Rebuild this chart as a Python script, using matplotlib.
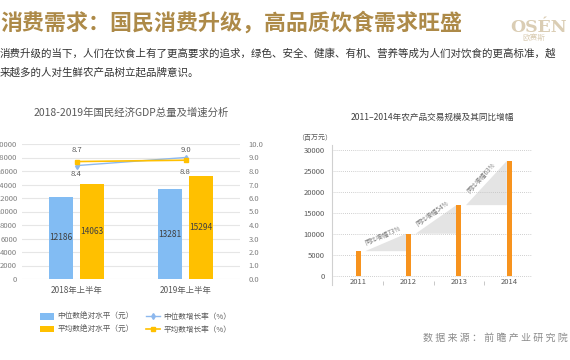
import numpy as np
import matplotlib
matplotlib.use("Agg")
import matplotlib.pyplot as plt

plt.rcParams['font.family'] = ['Noto Sans CJK SC', 'DejaVu Sans']

# data - left chart
periods = ["2018年上半年", "2019年上半年"]
median_level = [12186, 13281]
mean_level = [14063, 15294]
median_growth = [8.4, 9.0]
mean_growth = [8.7, 8.8]

# data - right chart
years = ["2011", "2012", "2013", "2014"]
trade_scale = [5950, 10100, 16900, 27400]
growth_labels = ["同比增幅73%", "同比增幅54%", "同比增幅63%"]

W, H = 570, 360
fig = plt.figure(figsize=(W / 100, H / 100), dpi=100)
fig.patch.set_facecolor("white")


def px(x, y):
    return x / W, 1 - y / H


# header
fig.text(*px(0, 23), "消费需求：国民消费升级，高品质饮食需求旺盛", fontsize=15.8,
         fontweight="bold", color="#AD8A48", va="center", ha="left")
fig.text(*px(539, 27), "OSÉN", family="DejaVu Serif", fontsize=12.5,
         color="#DACDB4", va="center", ha="center", fontweight="bold")
fig.text(*px(534, 38), "欧赛斯", fontsize=5.5, color="#DACDB4", va="center", ha="center")
fig.text(*px(0, 53), "消费升级的当下，人们在饮食上有了更高要求的追求，绿色、安全、健康、有机、营养等成为人们对饮食的更高标准，越",
         fontsize=7.55, color="#333333", va="center", ha="left")
fig.text(*px(0, 72), "来越多的人对生鲜农产品树立起品牌意识。",
         fontsize=7.55, color="#333333", va="center", ha="left")
fig.text(*px(568, 338), "数 据 来 源 ： 前 瞻 产 业 研 究 院", fontsize=7.2, color="#8C8C8C",
         va="center", ha="right")

# ---- left chart ----
ax = fig.add_axes([22 / W, 1 - 279 / H, 218 / W, 135 / H])
x = np.arange(len(periods))
blue, orange = "#82BCF3", "#FFC000"
b1 = ax.bar(x - 0.14, median_level, 0.22, color=blue, zorder=2)
b2 = ax.bar(x + 0.14, mean_level, 0.22, color=orange, zorder=2)
for bars, vals in [(b1, median_level), (b2, mean_level)]:
    for r, v in zip(bars, vals):
        ax.text(r.get_x() + r.get_width() / 2, v / 2, str(v), ha="center", va="center",
                fontsize=6, color="#404040")
ax.set_xlim(-0.5, 1.5)
ax.set_ylim(0, 20000)
ax.set_yticks(range(0, 20001, 2000))
ax.set_xticks(x, periods)
ax.tick_params(length=0, labelsize=5.5, labelcolor="#7F7F7F")
ax.tick_params(axis="x", pad=5, labelsize=6, labelcolor="#595959")
ax.grid(axis="y", color="#E6E6E6", lw=0.8, zorder=0)
for s in ax.spines.values():
    s.set_visible(False)
ax.set_title("2018-2019年国民经济GDP总量及增速分析", fontsize=7.5, color="#595959", pad=20)

ax2 = ax.twinx()
l1, = ax2.plot(x, median_growth, color="#8DB8EE", lw=1, marker="d", ms=3, zorder=3)
l2, = ax2.plot(x, mean_growth, color=orange, lw=1.2, marker="s", ms=3.5, zorder=3)
ax2.set_ylim(0, 10)
ax2.set_yticks(np.arange(0, 10.01, 1.0))
ax2.set_yticklabels([f"{v:.1f}" for v in np.arange(0, 10.01, 1.0)])
ax2.tick_params(length=0, labelsize=5.5, labelcolor="#7F7F7F", pad=6)
for s in ax2.spines.values():
    s.set_visible(False)
label_offsets = {(0, 0): -8, (0, 1): 8, (1, 0): 12, (1, 1): -12}
for si, series in enumerate([median_growth, mean_growth]):
    for i, v in enumerate(series):
        ax2.annotate(f"{v:.1f}", (x[i], v), xytext=(0, label_offsets[(si, i)]),
                     textcoords="offset pixels", ha="center", va="center",
                     fontsize=5.5, color="#595959")

fig.legend([b1, b2, l1, l2],
           ["中位数绝对水平（元）", "平均数绝对水平（元）", "中位数增长率（%）", "平均数增长率（%）"],
           ncol=2, loc="upper left", bbox_to_anchor=px(33, 306), frameon=False,
           fontsize=5.5, labelcolor="#595959", handlelength=1.8, handleheight=0.9,
           handletextpad=0.5, columnspacing=1.6, labelspacing=0.6)

# ---- right chart ----
bx = fig.add_axes([332 / W, 1 - 285 / H, 200 / W, 140 / H])
xr = np.arange(len(years))
bx.set_xlim(-0.52, 3.45)
bx.set_ylim(-2100, 31200)
for i in range(len(years) - 1):
    x0, x1 = xr[i] + 0.14, xr[i + 1] - 0.05
    v0, v1 = trade_scale[i], trade_scale[i + 1]
    bx.fill([x0, x1, x1], [v0, v1, v0], color="#E4E4E4", lw=0, zorder=1)
bx.bar(xr, trade_scale, 0.1, color="#F7931E", zorder=3)
bx.set_yticks(range(0, 30001, 5000))
bx.grid(axis="y", color="#BFBFBF", lw=0.6, ls=(0, (1, 1.5)), zorder=0)
bx.set_xticks(xr, years)
bx.set_xticks(xr[:-1] + 0.5, minor=True)
bx.tick_params(axis="y", length=0, labelsize=5.5, labelcolor="#595959", pad=5)
bx.tick_params(axis="x", which="major", length=0, labelsize=5.5, labelcolor="#595959", pad=-5)
bx.tick_params(axis="x", which="minor", length=3, direction="in", color="#BFBFBF", width=0.6)
for k in ["top", "right", "bottom"]:
    bx.spines[k].set_visible(False)
bx.spines["left"].set_color("#D0D0D0")
bx.spines["left"].set_linewidth(0.8)
bx.set_title("2011–2014年农产品交易规模及其同比增幅", fontsize=6.2, color="#404040", pad=18)
fig.text(*px(315, 138), "（百万元）", fontsize=5, color="#595959", ha="center", va="center")

# rotated growth labels along the triangles
for i, lab in enumerate(growth_labels):
    x0, x1 = xr[i] + 0.14, xr[i + 1] - 0.05
    v0, v1 = trade_scale[i], trade_scale[i + 1]
    p0 = bx.transData.transform((x0, v0))
    p1 = bx.transData.transform((x1, v1))
    ang = np.degrees(np.arctan2(p1[1] - p0[1], p1[0] - p0[0]))
    nx, ny = -np.sin(np.radians(ang)) * 7, np.cos(np.radians(ang)) * 7
    bx.annotate(lab, ((x0 + x1) / 2, (v0 + v1) / 2), xytext=(nx, ny),
                textcoords="offset pixels", rotation=ang, rotation_mode="anchor",
                ha="center", va="center", fontsize=4.6, color="#7F7F7F")

fig.savefig("out.png", dpi=100, facecolor="white")
